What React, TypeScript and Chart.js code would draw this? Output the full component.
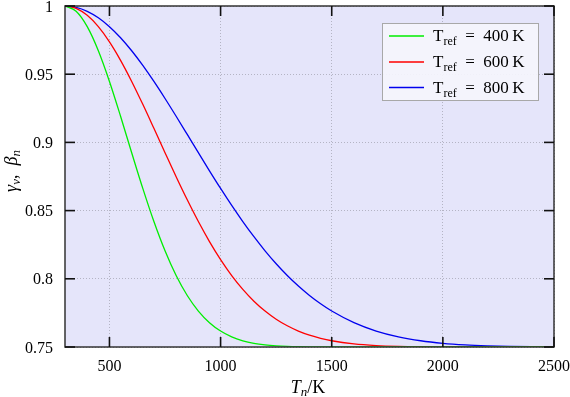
import React, { useEffect, useRef } from 'react';
import { Chart, registerables } from 'chart.js';

Chart.register(...registerables);

// Temperature T_n in K
const temperatures = [
  300, 350, 400, 450, 500, 550, 600, 650, 700, 750, 800, 850, 900, 950, 1000,
  1050, 1100, 1150, 1200, 1250, 1300, 1350, 1400, 1450, 1500,
  1600, 1700, 1800, 1900, 2000, 2100, 2200, 2300, 2400, 2500,
];

// T_ref = 400 K
const curve400 = [
  1.0, 0.99612, 0.98485, 0.9672, 0.9447, 0.91916, 0.89244, 0.86626, 0.84197, 0.82051,
  0.8024, 0.78774, 0.77635, 0.76783, 0.76169, 0.75743, 0.75458, 0.75273, 0.75158, 0.75089,
  0.75048, 0.75025, 0.75013, 0.75006, 0.75003,
  0.75001, 0.75, 0.75, 0.75, 0.75, 0.75, 0.75, 0.75, 0.75, 0.75,
];

// T_ref = 600 K
const curve600 = [
  1.0, 0.99827, 0.99315, 0.98485, 0.97371, 0.96016, 0.9447, 0.9279, 0.9103, 0.89244,
  0.87484, 0.8579, 0.84197, 0.82731, 0.8141, 0.8024, 0.79225, 0.7836, 0.77635, 0.77038,
  0.76555, 0.76169, 0.75868, 0.75635, 0.75458,
  0.75229, 0.75108, 0.75048, 0.7502, 0.75008, 0.75003, 0.75001, 0.75, 0.75, 0.75,
];

// T_ref = 800 K
const curve800 = [
  1.0, 0.99903, 0.99612, 0.99136, 0.98485, 0.97674, 0.9672, 0.95645, 0.9447, 0.9322,
  0.91916, 0.90584, 0.89244, 0.87919, 0.86626, 0.85381, 0.84197, 0.83085, 0.82051, 0.81103,
  0.8024, 0.79465, 0.78774, 0.78166, 0.77635,
  0.76783, 0.76169, 0.75743, 0.75458, 0.75273, 0.75158, 0.75089, 0.75048, 0.75025, 0.75013,
];

const refTemps = ['400', '600', '800'];
const xTicks = [500, 1000, 1500, 2000, 2500];
const yTicks = [0.75, 0.8, 0.85, 0.9, 0.95, 1];
const yTickLabels = ['0.75', '0.8', '0.85', '0.9', '0.95', '1'];

const X_MIN = 300;
const X_MAX = 2500;
const Y_MIN = 0.75;
const Y_MAX = 1;

const SERIF = '"Liberation Serif", "DejaVu Serif", serif';
const COLORS = ['#00ee00', '#ff0000', '#0000ee'];

type Run = { text: string; size: number; italic?: boolean; dy?: number };

function runsWidth(ctx: CanvasRenderingContext2D, runs: Run[]) {
  let w = 0;
  for (const r of runs) {
    ctx.font = `${r.italic ? 'italic ' : ''}${r.size}px ${SERIF}`;
    w += ctx.measureText(r.text).width;
  }
  return w;
}

function drawRuns(ctx: CanvasRenderingContext2D, runs: Run[], x: number, y: number) {
  let cx = x;
  ctx.textBaseline = 'alphabetic';
  ctx.textAlign = 'left';
  for (const r of runs) {
    ctx.font = `${r.italic ? 'italic ' : ''}${r.size}px ${SERIF}`;
    ctx.fillText(r.text, cx, y + (r.dy || 0));
    cx += ctx.measureText(r.text).width;
  }
}

const decorPlugin = {
  id: 'decor',
  beforeDraw(chart: any) {
    const { ctx, chartArea: a } = chart;
    ctx.save();
    ctx.fillStyle = '#e5e5fa';
    ctx.fillRect(a.left, a.top, a.right - a.left, a.bottom - a.top);
    ctx.restore();
  },
  afterDraw(chart: any) {
    const { ctx, chartArea: a, scales } = chart;
    const xs = scales.x;
    const ys = scales.y;
    const left = Number(a.left), right = Number(a.right), top = Number(a.top), bottom = Number(a.bottom);
    ctx.save();
    ctx.setLineDash([]);
    ctx.globalAlpha = 1;
    ctx.globalCompositeOperation = 'source-over';
    // frame
    ctx.strokeStyle = '#333';
    ctx.lineWidth = 1.5;
    ctx.strokeRect(left, top, right - left, bottom - top);
    // tick marks (inward, mirrored)
    ctx.strokeStyle = '#111';
    ctx.lineWidth = 1.6;
    const L = 10;
    xTicks.forEach((t) => {
      const px = Number(xs.getPixelForValue(t));
      ctx.beginPath();
      ctx.moveTo(px, bottom);
      ctx.lineTo(px, bottom - L);
      ctx.stroke();
      ctx.beginPath();
      ctx.moveTo(px, top);
      ctx.lineTo(px, top + L);
      ctx.stroke();
    });
    yTicks.forEach((t) => {
      const py = Number(ys.getPixelForValue(t));
      ctx.beginPath();
      ctx.moveTo(left, py);
      ctx.lineTo(left + L, py);
      ctx.stroke();
      ctx.beginPath();
      ctx.moveTo(right, py);
      ctx.lineTo(right - L, py);
      ctx.stroke();
    });

    // tick labels
    ctx.fillStyle = '#000';
    ctx.font = `16px ${SERIF}`;
    ctx.textBaseline = 'alphabetic';
    ctx.textAlign = 'center';
    for (const t of xTicks) {
      ctx.fillText(String(t), xs.getPixelForValue(t), bottom + 24);
    }
    ctx.textAlign = 'right';
    yTicks.forEach((t, i) => {
      ctx.fillText(yTickLabels[i], left - 12, ys.getPixelForValue(t) + 5.5);
    });

    // legend
    const bx = 382, by = 23, bw = 156, bh = 77;
    ctx.fillStyle = 'rgba(245,245,252,0.92)';
    ctx.fillRect(bx, by, bw, bh);
    ctx.strokeStyle = '#a8a8a8';
    ctx.lineWidth = 1;
    ctx.strokeRect(bx + 0.5, by + 0.5, bw, bh);
    const rows = [36, 62, 87.5];
    refTemps.forEach((t, i) => {
      const ry = rows[i];
      ctx.strokeStyle = COLORS[i];
      ctx.lineWidth = 1.3;
      ctx.beginPath();
      ctx.moveTo(389, ry);
      ctx.lineTo(424, ry);
      ctx.stroke();
      ctx.fillStyle = '#000';
      drawRuns(ctx, [
        { text: 'T', size: 17 },
        { text: 'ref', size: 12, dy: 4 },
        { text: `\u2002=\u2002${t}\u2009K`, size: 17 },
      ], 433, ry + 5);
    });

    // x axis title
    ctx.fillStyle = '#000';
    const xr: Run[] = [
      { text: 'T', size: 18, italic: true },
      { text: 'n', size: 13, italic: true, dy: 3 },
      { text: '/K', size: 18 },
    ];
    const xw = runsWidth(ctx, xr);
    drawRuns(ctx, xr, 308 - xw / 2, 393);

    // y axis title (rotated)
    const yr: Run[] = [
      { text: 'γ', size: 18, italic: true },
      { text: 'ν', size: 13, italic: true, dy: 3 },
      { text: ',\u2002', size: 18 },
      { text: 'β', size: 18, italic: true },
      { text: 'n', size: 13, italic: true, dy: 3 },
    ];
    const yw = runsWidth(ctx, yr);
    ctx.translate(17, 171);
    ctx.rotate(-Math.PI / 2);
    drawRuns(ctx, yr, -yw / 2, 0);
    ctx.restore();
  },
};

export default function App() {
  const ref = useRef<HTMLCanvasElement | null>(null);

  useEffect(() => {
    document.body.style.margin = '0';
    const canvas = ref.current;
    if (!canvas) return;
    const mk = (vals: number[]) => temperatures.map((x, i) => ({ x, y: vals[i] }));
    const gridOpts = {
      color: '#b4b4c4',
      lineWidth: 1,
      drawTicks: false,
    };
    const chart = new Chart(canvas, {
      type: 'line',
      data: {
        datasets: [curve400, curve600, curve800].map((vals, i) => ({
          label: `T_ref = ${refTemps[i]} K`,
          data: mk(vals),
          borderColor: COLORS[i],
          backgroundColor: COLORS[i],
          borderWidth: 1.3,
          pointRadius: 0,
          cubicInterpolationMode: 'monotone' as const,
          fill: false,
        })),
      },
      options: {
        responsive: false,
        animation: false,
        devicePixelRatio: 1,
        layout: { padding: { top: 6, right: 16, left: 0, bottom: 0 } },
        plugins: {
          legend: { display: false },
          tooltip: { enabled: false },
        },
        scales: {
          x: {
            type: 'linear',
            min: X_MIN,
            max: X_MAX,
            afterBuildTicks: (s: any) => {
              s.ticks = xTicks.map((v) => ({ value: v }));
            },
            afterFit: (s: any) => {
              s.height = 50;
            },
            border: { display: false, dash: [1, 2] },
            grid: gridOpts,
            ticks: { display: false },
          },
          y: {
            type: 'linear',
            min: Y_MIN,
            max: Y_MAX,
            afterBuildTicks: (s: any) => {
              s.ticks = yTicks.map((v) => ({ value: v }));
            },
            afterFit: (s: any) => {
              s.width = 65;
            },
            border: { display: false, dash: [1, 2] },
            grid: gridOpts,
            ticks: { display: false },
          },
        },
      } as any,
      plugins: [decorPlugin],
    });
    return () => chart.destroy();
  }, []);

  return (
    <div style={{ position: 'fixed', left: 0, top: 0, width: 570, height: 397 }}>
      <canvas ref={ref} width={570} height={397} />
    </div>
  );
}
